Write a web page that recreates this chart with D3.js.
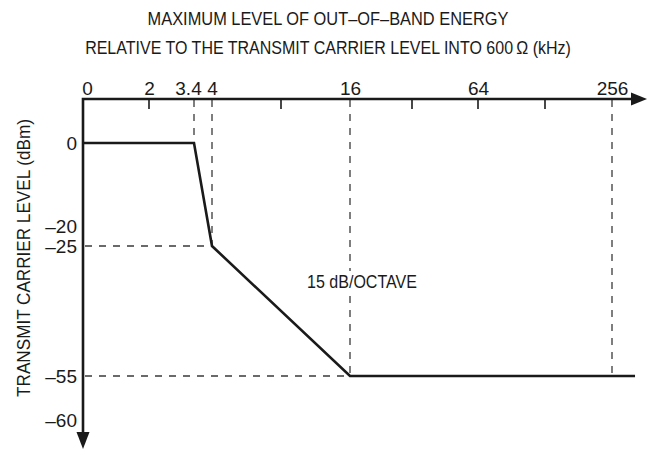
<!DOCTYPE html>
<html><head><meta charset="utf-8">
<script src="https://cdn.jsdelivr.net/npm/d3@7"></script>
<style>
body{margin:0;background:#fff}
svg{display:block}
text{font-family:"Liberation Sans",Arial,sans-serif;fill:#1a1a1a}
</style>
</head><body><svg id="c" width="654" height="451"></svg>
<script>
// ---- data ----
const titleLines = ["MAXIMUM LEVEL OF OUT\u2013OF\u2013BAND ENERGY",
                    "RELATIVE TO THE TRANSMIT CARRIER LEVEL INTO 600\u2009\u03A9 (kHz)"];
const yLabel = "TRANSMIT CARRIER LEVEL (dBm)";
const slopeLabel = "15 dB/OCTAVE";
const freqTicks = [0, 2, 3.4, 4, 16, 64, 256];          // labelled (kHz)
const freqMinorTicks = [2, 8, 32, 64, 128];             // solid tick marks
const freqGuides = [3.4, 4, 16, 256];                   // dashed verticals
const levelTicks = [0, -20, -25, -55, -60];             // labelled (dBm)
const levelGuides = [-25, -55];                         // dashed horizontals
const maskFreq  = [0, 3.4, 4, 16, 300];
const maskLevel = [0, 0, -25, -55, -55];

// ---- scales (schematic, piecewise) ----
const x = d3.scaleLinear()
  .domain([0, 2, 3.4, 4, 8, 16, 32, 64, 128, 256])
  .range([83, 149, 194, 212, 281, 350, 412, 478, 545, 612]);
const y = d3.scaleLinear()
  .domain([0, -20, -25, -55, -60])
  .range([143, 226, 246, 376, 420]);

const axisY = 99, axisRight = 647, axisBottom = 449;
const ink = "#1a1a1a", dashInk = "#3a3a3a";
const svg = d3.select("#c");

const mask = maskFreq.map((f, i) => ({f, l: maskLevel[i]}));
function levelAt(f){
  for (let i = 0; i < mask.length - 1; i++){
    const a = mask[i], b = mask[i+1];
    if (f >= a.f && f <= b.f){
      if (f === a.f) return a.l;
      return a.l + (b.l - a.l) * (f - a.f) / (b.f - a.f);
    }
  }
  return mask[mask.length-1].l;
}
function freqAtLevel(l){
  for (let i = 0; i < mask.length - 1; i++){
    const a = mask[i], b = mask[i+1];
    if ((l <= a.l && l >= b.l) && a.l !== b.l){
      return a.f + (b.f - a.f) * (a.l - l) / (a.l - b.l);
    }
  }
  return mask[mask.length-1].f;
}

// squeeze a centred text horizontally to a target width
function fitText(sel, cx, cy, target, rotate){
  const t = sel.append("text").attr("text-anchor", "middle").attr("font-size", 19);
  return function(str){
    t.text(str);
    const w = t.node().getComputedTextLength();
    const k = Math.min(1, target / w);
    t.attr("transform", `translate(${cx},${cy})${rotate ? " rotate(-90)" : ""} scale(${k},1)`);
    return t;
  };
}

// ---- dashed guides ----
const g = svg.append("g").attr("stroke", dashInk).attr("stroke-width", 1.3)
  .attr("stroke-dasharray", "7,7").attr("fill", "none");
g.selectAll("line.v").data(freqGuides).join("line").attr("class","v")
  .attr("x1", d => x(d)).attr("x2", d => x(d))
  .attr("y1", axisY + 1).attr("y2", d => y(levelAt(d)));
g.selectAll("line.h").data(levelGuides).join("line").attr("class","h")
  .attr("y1", d => y(d)).attr("y2", d => y(d))
  .attr("x1", x(0) + 2).attr("x2", d => x(freqAtLevel(d)));

// ---- slope label with white backing ----
svg.append("rect").attr("x", x(16) + 12 - 57).attr("y", 271).attr("width", 114).attr("height", 22).attr("fill", "#fff");
fitText(svg, x(16) + 12, 288, 110, false)(slopeLabel);

// ---- mask curve ----
svg.append("path").datum(mask)
  .attr("fill", "none").attr("stroke", ink).attr("stroke-width", 2.6)
  .attr("stroke-linejoin", "miter")
  .attr("d", d3.line().x(d => x(d.f)).y(d => y(d.l)));

// ---- top axis (frequency) ----
const xAxis = d3.axisTop(x).tickValues(freqTicks).tickSize(0).tickPadding(4)
  .tickFormat(d => String(d));
const xa = svg.append("g").attr("transform", `translate(0,${axisY})`).call(xAxis);
xa.select(".domain").remove();
xa.selectAll("text").attr("font-size", 19).attr("fill", ink)
  .attr("font-family", null)
  .attr("dx", d => d === 0 ? 4 : (d === 3.4 ? -6 : 0));
svg.append("g").selectAll("line").data(freqMinorTicks).join("line")
  .attr("x1", d => x(d)).attr("x2", d => x(d))
  .attr("y1", axisY).attr("y2", axisY + 10)
  .attr("stroke", ink).attr("stroke-width", 1.6);

// ---- left axis (level) ----
const yAxis = d3.axisLeft(y).tickValues(levelTicks).tickSize(0).tickPadding(6)
  .tickFormat(d => d < 0 ? "\u2013" + Math.abs(d) : String(d));
const ya = svg.append("g").attr("transform", `translate(${x(0)},0)`).call(yAxis);
ya.select(".domain").remove();
ya.selectAll("text").attr("font-size", 19).attr("fill", ink).attr("font-family", null);

// ---- axis lines with arrows ----
svg.append("path").attr("fill", "none").attr("stroke", ink).attr("stroke-width", 2.6)
  .attr("d", `M${x(0)},${axisBottom - 14} L${x(0)},${axisY} L${axisRight - 12},${axisY}`);
svg.append("path").attr("fill", ink)
  .attr("d", `M${axisRight},${axisY} L${axisRight - 16},${axisY - 6.5} L${axisRight - 16},${axisY + 6.5} Z`);
svg.append("path").attr("fill", ink)
  .attr("d", `M${x(0)},${axisBottom} L${x(0) - 6.5},${axisBottom - 17} L${x(0) + 6.5},${axisBottom - 17} Z`);

// ---- titles ----
const titleWidths = [361, 486];
titleLines.forEach((line, i) => fitText(svg, 328, 25 + i * 29, titleWidths[i], false)(line));

fitText(svg, 30, 258, 278, true)(yLabel);
</script>
</body></html>
